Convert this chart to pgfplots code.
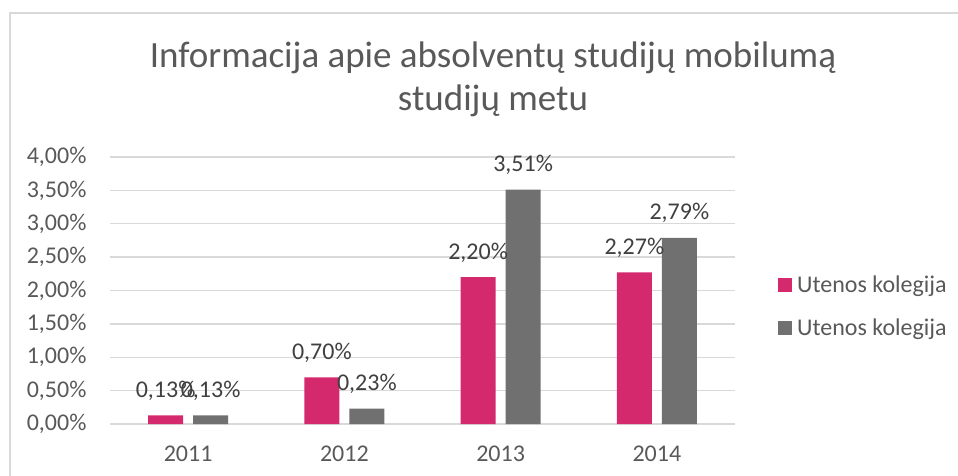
\documentclass[border=0pt]{standalone}
\usepackage{pgfplots}
\pgfplotsset{compat=1.18}
\usepackage{fontspec}
\setmainfont{Carlito}
\definecolor{pinkbar}{RGB}{212,41,108}
\definecolor{graybar}{RGB}{112,112,112}
\definecolor{txt}{RGB}{89,89,89}
\definecolor{lbl}{RGB}{64,64,64}
\definecolor{gridc}{RGB}{217,217,217}
\begin{document}
\begin{tikzpicture}[x=1pt,y=1pt]
\path[use as bounding box] (0,0) rectangle (958,475);
\begin{scope}
\clip (0,0) rectangle (958,475);
\draw[gridc, line width=2pt] (10,-10) -- (10,462) -- (970,462);
\end{scope}
\node[anchor=base, text=txt, font=\fontsize{37}{44}\selectfont] at (493,407) {Informacija apie absolventų studijų mobilumą};
\node[anchor=base, text=txt, font=\fontsize{37}{44}\selectfont] at (493,364) {studijų metu};
\begin{axis}[
  at={(110pt,51pt)}, anchor=south west,
  scale only axis, width=625pt, height=267pt,
  ybar=10pt, bar width=35pt,
  xmin=-0.5, xmax=3.5, ymin=0, ymax=4,
  xtick={0,1,2,3}, xticklabels={2011,2012,2013,2014},
  ytick={0,0.5,...,4},
  axis line style={draw=none},
  major tick length=0pt,
  ymajorgrids, xmajorgrids=false, grid style={gridc, line width=1.4pt},
  /pgf/number format/assume math mode=true,
  yticklabel={\pgfmathprintnumber[fixed,fixed zerofill,precision=2,use comma]{\tick}\%},
  ticklabel style={font=\fontsize{24}{28}\selectfont, text=txt},
  yticklabel style={xshift=-20pt},
  xticklabel style={yshift=-18pt},
  nodes near coords={\pgfmathprintnumber[fixed,fixed zerofill,precision=2,use comma,assume math mode=true]{\pgfplotspointmeta}\%},
  every node near coord/.append style={anchor=base, yshift=18pt, font=\fontsize{24}{28}\selectfont, text=lbl},
  legend style={at={(axis description cs:1,0.44)}, anchor=west, xshift=43pt, draw=none, fill=none,
    font=\fontsize{24}{28}\selectfont, text=txt, row sep=21pt, inner sep=0pt},
  legend cell align=left,
  legend image code/.code={\fill[#1] (0pt,-7pt) rectangle (14pt,7pt); \path (17pt,0pt);},
]
\addplot[fill=pinkbar, draw=none] coordinates {(0,0.13) (1,0.70) (2,2.20) (3,2.27)};
\addplot[fill=graybar, draw=none] coordinates {(0,0.13) (1,0.23) (2,3.51) (3,2.79)};
\legend{Utenos kolegija, Utenos kolegija}
\end{axis}
\end{tikzpicture}
\end{document}
